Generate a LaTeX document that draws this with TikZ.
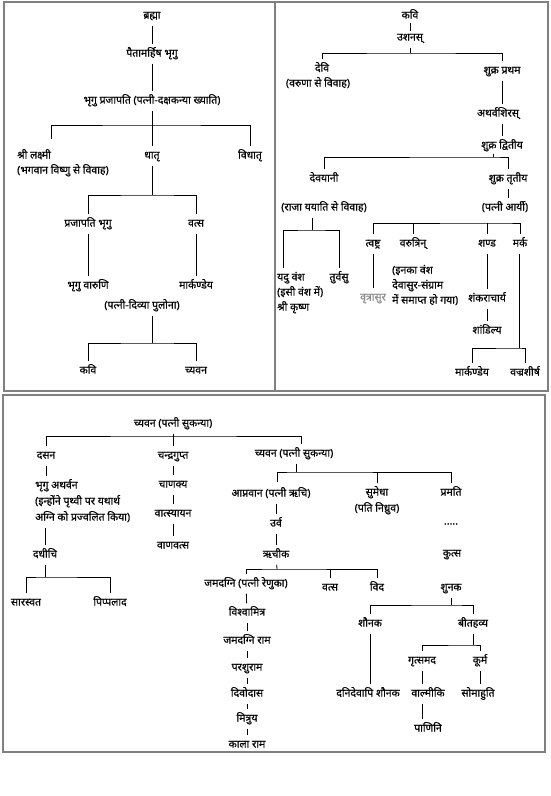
\documentclass[tikz,border=0pt]{standalone}
\usepackage{fontspec}
\newfontfamily\dev[Script=Devanagari,FakeBold=0.6]{Noto Sans}
\begin{document}
\begin{tikzpicture}[x=1pt,y=-1pt,
  n/.style={font=\dev\fontsize{10.5}{15}\selectfont, inner xsep=1pt, inner ysep=4.5pt, text height=7.5pt, text depth=2.5pt},
  con/.style={draw, line width=0.8pt},
  frame/.style={draw=black!50, line width=1.8pt}]
\useasboundingbox (0,0) rectangle (550,796);
\draw[frame] (4,2) rectangle (548,391);
\draw[frame] (275,2) -- (275,391);
\draw[frame] (3,395) rectangle (545,752);
% ---------------- top left
\node[n] (brahma) at (152,16) {ब्रह्मा};
\node[n] (paita) at (152,54) {पैतामर्हिष भृगु};
\node[n] (bhp) at (152,101) {भृगु प्रजापति (पत्नी-दक्षकन्या ख्याति)};
\node[n,anchor=west] (lak) at (16,156) {श्री लक्ष्मी};
\node[n,anchor=west] (lakb) at (16,171) {(भगवान विष्णु से विवाह)};
\node[n] (dhatr) at (152,156) {धातृ};
\node[n] (vidh) at (250,156) {विधातृ};
\node[n] (pbh) at (88,224) {प्रजापति भृगु};
\node[n] (vatsa) at (196,224) {वत्स};
\node[n] (bvar) at (88,286) {भृगु वारुणि};
\node[n] (mark) at (196,286) {मार्कण्डेय};
\node[n] (puloma) at (142,306) {(पत्नी-दिव्या पुलोना)};
\node[n] (kavi) at (88,371) {कवि};
\node[n] (chyavana) at (196,371) {च्यवन};
\draw[con] (brahma) -- (paita);
\draw[con] (paita) -- (bhp);
\coordinate (j1) at (152,125);
\coordinate (lakt) at (51,139);
\draw[con] (bhp) -- (j1);
\draw[con] (lakt) |- (j1) -| (vidh);
\draw[con] (j1) -- (dhatr);
\coordinate (j2) at (152,195);
\draw[con] (dhatr) -- (j2);
\draw[con] (pbh) |- (j2) -| (vatsa);
\draw[con] (pbh) -- (bvar);
\draw[con] (vatsa) -- (mark);
\coordinate (j3) at (152,343);
\draw[con] (puloma.south -| j3) -- (j3);
\draw[con] (kavi) |- (j3) -| (chyavana);
% ---------------- top right
\node[n] (kavi2) at (410,16) {कवि};
\node[n] (ushanas) at (410,38) {उशनस्};
\draw[con] ([yshift=3pt]kavi2.south) -- ([yshift=-3pt]ushanas.north);
\coordinate (j4) at (410,53);
\node[n] (devi) at (322,69) {देवि};
\node[n] (devib) at (318,84) {(वरुणा से विवाह)};
\node[n] (shukra1) at (502,71) {शुक्र प्रथम};
\draw[con] (ushanas) -- (j4);
\draw[con] (devi) |- (j4) -| (shukra1);
\node[n] (atharva) at (498,114) {अथर्वशिरस्};
\draw[con] (shukra1) -- (shukra1 |- atharva.north);
\node[n] (shukra2) at (502,146) {शुक्र द्वितीय};
\draw[con] (atharva.south -| shukra2) -- (shukra2);
\coordinate (j5) at (493,157);
\draw[con] ([yshift=2pt]shukra2.south -| j5) -- (j5);
\node[n] (devayani) at (324,179) {देवयानी};
\node[n] (shukra3) at (508,179) {शुक्र तृतीय};
\draw[con] (devayani) |- (j5) -| (shukra3);
\node[n] (arya) at (505,208) {(पत्नी आर्यी)};
\draw[con] (shukra3) -- (shukra3 |- arya.north);
\node[n] (raja) at (324,208) {(राजा ययाति से विवाह)};
\coordinate (j6) at (312,230);
\draw[con] (raja.south -| j6) -- (j6);
\node[n,anchor=west] (yadu) at (276,278) {यदु वंश};
\node[n,anchor=west] (yadub) at (276,293) {(इसी वंश में)};
\node[n,anchor=west] (yaduc) at (276,308) {श्री कृष्ण};
\node[n] (turvasu) at (339,278) {तुर्वसु};
\draw[con] (yadu.north -| 283,0) |- (j6) -| (turvasu);
\coordinate (j7) at (505,223);
\node[n] (tvashtr) at (373,244) {त्वष्ट्र};
\node[n] (varutrin) at (413,244) {वरुत्रिन्};
\node[n] (shanda) at (487,244) {शण्ड};
\node[n] (marka) at (520,244) {मर्क};
\draw[con] (tvashtr) |- (j7) -| (marka);
\draw[con] (varutrin) -- (varutrin |- j7);
\draw[con] (shanda) -- (shanda |- j7);
\node[n,text=black!45] (vritra) at (373,298) {वृत्रासुर};
\draw[con] (tvashtr) -- (vritra);
\node[n,anchor=west] (inaka) at (391,271) {(इनका वंश};
\node[n,anchor=west] (inakab) at (391,286) {देवासुर-संग्राम};
\node[n,anchor=west] (inakac) at (391,301) {में समाप्त हो गया)};
\node[n] (shankar) at (487,299) {शंकराचार्य};
\draw[con] (shanda) -- (shankar);
\node[n] (shandilya) at (487,331) {शांडिल्य};
\draw[con] (shankar) -- (shandilya);
\coordinate (j8) at (519,348);
\node[n] (mark2) at (472,373) {मार्कण्डेय};
\node[n] (vajra) at (525,373) {वज्रशीर्ष};
\draw[con] (marka.south -| j8) -- (j8);
\draw[con] (mark2) |- (j8) -| (vajra);
% ---------------- bottom
\node[n] (chys) at (173,424) {च्यवन (पत्नी सुकन्या)};
\coordinate (j9) at (173,436);
\node[n] (dasan) at (46,456) {दसन};
\node[n] (chandra) at (173,456) {चन्द्रगुप्त};
\node[n] (chys2) at (294,454) {च्यवन (पत्नी सुकन्या)};
\coordinate (c2t) at (301,444);
\draw[con] (chys) -- (chandra);
\draw[con] (dasan) |- (j9) -| (c2t);
\node[n,anchor=west] (bhath) at (34,486) {भृगु अथर्वन};
\node[n,anchor=west] (bhathb) at (34,502) {(इन्होंने पृथ्वी पर यथार्थ};
\node[n,anchor=west] (bhathc) at (34,518) {अग्नि को प्रज्वलित किया)};
\draw[con] (dasan) -- (dasan |- bhath.north);
\node[n] (dadhichi) at (45,555) {दधीचि};
\draw[con] (bhathc.south -| dadhichi) -- (dadhichi);
\coordinate (j10) at (45,577);
\draw[con] (dadhichi) -- (j10);
\node[n] (sarasvat) at (26,603) {सारस्वत};
\node[n] (pippalad) at (110,603) {पिप्पलाद};
\draw[con] (sarasvat) |- (j10) -| (pippalad);
\node[n] (chanakya) at (173,485) {चाणक्य};
\node[n] (vatsyayan) at (173,514) {वात्स्यायन};
\node[n] (vanavatsa) at (173,546) {वाणवत्स};
\draw[con] (chandra) -- (chanakya);
\draw[con] (chanakya) -- (vatsyayan);
\draw[con] (vatsyayan) -- (vanavatsa);
\coordinate (j11) at (296,472);
\draw[con] (chys2.south -| j11) -- (j11);
\node[n] (apnavan) at (271,494) {आप्नवान (पत्नी ऋचि)};
\node[n] (sumedha) at (377,493) {सुमेधा};
\node[n] (sumedhab) at (377,509) {(पति निध्रुव)};
\node[n] (pramati) at (451,493) {प्रमति};
\coordinate (apt) at (277,482);
\draw[con] (apt) |- (j11) -| (pramati);
\draw[con] (sumedha) -- (sumedha |- j11);
\node[n] (dots) at (451,522) {.....};
\node[n] (kutsa) at (452,554) {कुत्स};
\node[n] (urva) at (276,524) {उर्व};
\draw[con] (apnavan.south -| urva) -- (urva);
\node[n] (richika) at (276,555) {ऋचीक};
\draw[con] (urva) -- (richika);
\coordinate (j12) at (277,569);
\draw[con] (richika) -- (j12);
\node[n] (jamad) at (246,584) {जमदग्नि (पत्नी रेणुका)};
\node[n] (vatsa2) at (330,588) {वत्स};
\node[n] (vida) at (377,588) {विद};
\draw[con] (jamad) |- (j12) -| (vida);
\draw[con] (vatsa2) -- (vatsa2 |- j12);
\node[n] (vishva) at (247,613) {विश्वामित्र};
\node[n] (jamrama) at (247,641) {जमदग्नि राम};
\node[n] (parshu) at (247,668) {परशुराम};
\node[n] (divo) at (247,694) {दिवोदास};
\node[n] (mitrayu) at (247,719) {मित्रुय};
\node[n] (kala) at (247,745) {काला राम};
\draw[con] (jamad) -- (vishva);
\draw[con] (vishva) -- (jamrama);
\draw[con] (jamrama) -- (parshu);
\draw[con] (parshu) -- (divo);
\draw[con] (divo) -- (mitrayu);
\draw[con] (mitrayu) -- (kala);
\node[n] (shunak) at (451,588) {शुनक};
\coordinate (j13) at (451,605);
\draw[con] (shunak) -- (j13);
\node[n] (shaunak) at (370,624) {शौनक};
\node[n] (vitah) at (473,624) {बीतहव्य};
\draw[con] (shaunak) |- (j13) -| (vitah);
\node[n] (dani) at (368,694) {दनिदेवापि शौनक};
\draw[con] (shaunak) -- (shaunak |- dani.north);
\coordinate (j14) at (473,645);
\draw[con] (vitah) -- (j14);
\node[n] (gritsa) at (422,661) {गृत्समद};
\node[n] (kurma) at (480,661) {कूर्म};
\draw[con] (gritsa) |- (j14) -| (kurma);
\node[n] (valmiki) at (428,694) {वाल्मीकि};
\node[n] (panini) at (428,729) {पाणिनि};
\node[n] (soma) at (478,694) {सोमाहुति};
\draw[con] (gritsa) -- (gritsa |- valmiki.north);
\draw[con] (valmiki.south -| gritsa) -- (gritsa |- panini.north);
\draw[con] (kurma) -- (kurma |- soma.north);
\end{tikzpicture}
\end{document}
